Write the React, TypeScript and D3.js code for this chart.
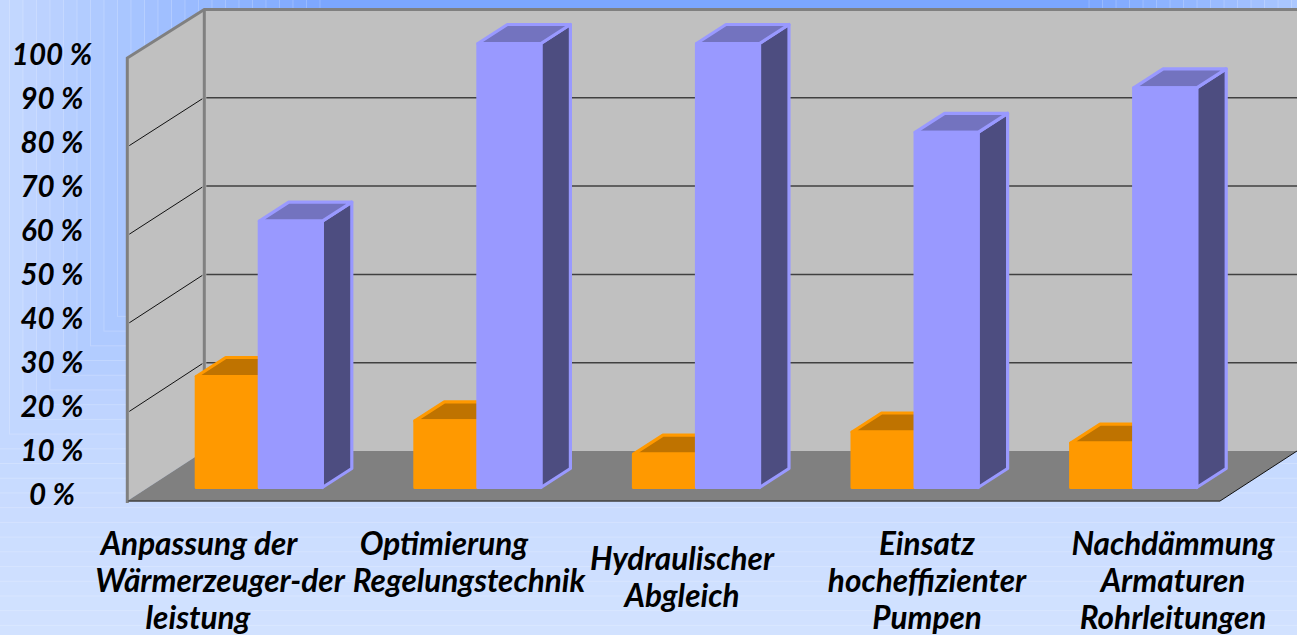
import { useEffect, useRef } from 'react';
import * as d3 from 'd3';

const categories = ['Wärmeerzeuger', 'Regelungstechnik', 'Abgleich', 'Pumpen', 'Rohrleitungen'];
const savingsOrange = [25, 15, 7.5, 12.5, 10];
const savingsBlue = [60, 100, 100, 80, 90];
const seriesNames = ['orange', 'blue'];
const yTicks = [0, 10, 20, 30, 40, 50, 60, 70, 80, 90, 100];
const gridTicks = [20, 40, 60, 80];

const categoryLabels = [
  ['Anpassung der', 'Wärmerzeuger-der', 'leistung'],
  ['Optimierung', 'Regelungstechnik'],
  ['Hydraulischer', 'Abgleich'],
  ['Einsatz', 'hocheffizienter', 'Pumpen'],
  ['Nachdämmung', 'Armaturen', 'Rohrleitungen'],
];
// the source labels were padded by hand, so a few lines sit off centre
const labelNudge = [
  [0, 21, -1],
  [1.5, 26.5],
  [-4, -4],
  [-2.5, -2.5, -2.5],
  [0, 0, 0],
];

const width = 1297;
const height = 635;
const fontFamily = "Lato, 'Open Sans', sans-serif";

const seriesStyle: Record<string, { front: string; top: string; side: string; stroke: string }> = {
  orange: { front: '#ff9900', top: '#bf7300', side: '#804d00', stroke: '#ff9900' },
  blue: { front: '#9999ff', top: '#7373bf', side: '#4d4d80', stroke: '#9999ff' },
};

type Pt = [number, number];
const poly = (points: Pt[]) => `M${points.map((p) => p.join(',')).join('L')}Z`;
const open = (points: Pt[]) => `M${points.map((p) => p.join(',')).join('L')}`;

export default function App() {
  const svgRef = useRef<SVGSVGElement>(null);

  useEffect(() => {
    if (!svgRef.current) return;
    const svg = d3.select(svgRef.current);
    svg.selectAll('*').remove();

    // backdrop: stepped rectangular path gradient
    const ringColor = d3
      .scaleLinear<string>()
      .domain([0, 327, 502])
      .range(['#79a5ff', '#c4d8ff', '#d2e2ff'])
      .interpolate(d3.interpolateRgb);
    const rings = d3.range(520, -1, -13.5);
    svg
      .append('g')
      .selectAll('rect')
      .data(rings)
      .join('rect')
      .attr('x', (s) => 327 - s)
      .attr('y', (s) => 3 - s * 1.09)
      .attr('width', (s) => 755 + 2 * s)
      .attr('height', (s) => 85 + 2 * s * 1.09)
      .attr('fill', (s) => ringColor(s))
      .attr('stroke', 'rgba(255,255,255,0.2)')
      .attr('stroke-width', 1);

    // 3D box
    const left = 127.3;
    const right = 1220;
    const depthX = 77;
    const yFront = d3.scaleLinear().domain([0, 100]).range([501, 58]);
    const yBack = d3.scaleLinear().domain([0, 100]).range([451, 9.5]);

    const box = svg.append('g');
    box
      .append('path')
      .attr('d', poly([[left + depthX, yBack(100)], [width, yBack(100)], [width, yBack(0)], [left + depthX, yBack(0)]]))
      .attr('fill', '#c0c0c0');
    box
      .append('path')
      .attr('d', poly([[left, yFront(100)], [left + depthX, yBack(100)], [left + depthX, yBack(0)], [left, yFront(0)]]))
      .attr('fill', '#c0c0c0');
    box
      .append('path')
      .attr('d', poly([[left, yFront(0)], [left + depthX, yBack(0)], [width, yBack(0)], [right, yFront(0)]]))
      .attr('fill', '#808080');
    box
      .append('path')
      .attr('d', open([[left, yFront(0) + 2], [left, yFront(100)], [left + depthX, yBack(100)], [width, yBack(100)]]))
      .attr('fill', 'none')
      .attr('stroke', '#808080')
      .attr('stroke-width', 3);
    box
      .append('path')
      .attr('d', open([[left + depthX, yBack(100)], [left + depthX, yBack(0)]]))
      .attr('fill', 'none')
      .attr('stroke', '#808080')
      .attr('stroke-width', 3);
    box
      .append('line')
      .attr('x1', left + 1)
      .attr('x2', right)
      .attr('y1', yFront(0))
      .attr('y2', yFront(0))
      .attr('stroke', '#404040')
      .attr('stroke-width', 1.5);
    box
      .append('line')
      .attr('x1', right)
      .attr('x2', width)
      .attr('y1', yFront(0))
      .attr('y2', yBack(0))
      .attr('stroke', '#111')
      .attr('stroke-width', 1);

    // gridlines on back and side wall
    box
      .append('g')
      .selectAll('line')
      .data(gridTicks)
      .join('line')
      .attr('x1', left + depthX + 2)
      .attr('x2', width)
      .attr('y1', (t) => yBack(t))
      .attr('y2', (t) => yBack(t))
      .attr('stroke', '#404040')
      .attr('stroke-width', 1.5);
    box
      .append('g')
      .selectAll('line')
      .data(gridTicks)
      .join('line')
      .attr('x1', left + 2)
      .attr('x2', left + depthX - 2)
      .attr('y1', (t) => yFront(t) - 1)
      .attr('y2', (t) => yBack(t) + 1)
      .attr('stroke', '#111')
      .attr('stroke-width', 1);

    // bars
    const y = d3.scaleLinear().domain([0, 100]).range([487.5, 43.5]);
    const x0 = d3
      .scaleBand<string>()
      .domain(categories)
      .range([150, 1243])
      .paddingInner(0.4236)
      .paddingOuter(0.2118);
    const x1 = d3.scaleBand<string>().domain(seriesNames).range([0, x0.bandwidth()]);
    const barDx = 29.5;
    const barDy = 19;

    const series = [
      { name: 'orange', values: savingsOrange },
      { name: 'blue', values: savingsBlue },
    ];
    const bars = svg.append('g');
    categories.forEach((category, i) => {
      series.forEach(({ name, values }) => {
        const style = seriesStyle[name];
        const xa = (x0(category) ?? 0) + (x1(name) ?? 0);
        const xb = xa + x1.bandwidth();
        const yt = y(values[i]);
        const yb = y(0);
        const faces = [
          { d: poly([[xb, yt], [xb + barDx, yt - barDy], [xb + barDx, yb - barDy], [xb, yb]]), fill: style.side },
          { d: poly([[xa, yt], [xa + barDx, yt - barDy], [xb + barDx, yt - barDy], [xb, yt]]), fill: style.top },
          { d: poly([[xa, yt], [xb, yt], [xb, yb], [xa, yb]]), fill: style.front },
        ];
        bars
          .append('g')
          .selectAll('path')
          .data(faces)
          .join('path')
          .attr('d', (f) => f.d)
          .attr('fill', (f) => f.fill)
          .attr('stroke', style.stroke)
          .attr('stroke-width', 3.2)
          .attr('stroke-linejoin', 'round');
      });
    });

    // value axis labels
    const yLabel = d3.scaleLinear().domain([0, 100]).range([505, 64.5]);
    svg
      .append('g')
      .selectAll('text')
      .data(yTicks)
      .join('text')
      .attr('x', 52)
      .attr('y', (t) => yLabel(t))
      .attr('text-anchor', 'middle')
      .attr('font-family', fontFamily)
      .attr('font-size', 29.5)
      .attr('font-weight', 700)
      .attr('font-style', 'italic')
      .attr('fill', '#000')
      .text((t) => `${t} %`);

    // category labels
    const xLabel = d3.scalePoint<string>().domain(categories).range([199, 1173]);
    const lineHeight = 37;
    categories.forEach((category, i) => {
      const lines = categoryLabels[i];
      const firstBaseline = i === 2 ? 570 : 555;
      svg
        .append('g')
        .selectAll('text')
        .data(lines)
        .join('text')
        .attr('x', (_, j) => (xLabel(category) ?? 0) + labelNudge[i][j])
        .attr('y', (_, j) => firstBaseline + j * lineHeight)
        .attr('text-anchor', 'middle')
        .attr('font-family', fontFamily)
        .attr('font-size', 31.5)
        .attr('font-weight', 700)
        .attr('font-style', 'italic')
        .attr('fill', '#000')
        .text((line) => line);
    });
  }, []);

  return (
    <svg
      ref={svgRef}
      width={width}
      height={height}
      viewBox={`0 0 ${width} ${height}`}
      style={{ position: 'absolute', left: 0, top: 0, display: 'block' }}
    />
  );
}
